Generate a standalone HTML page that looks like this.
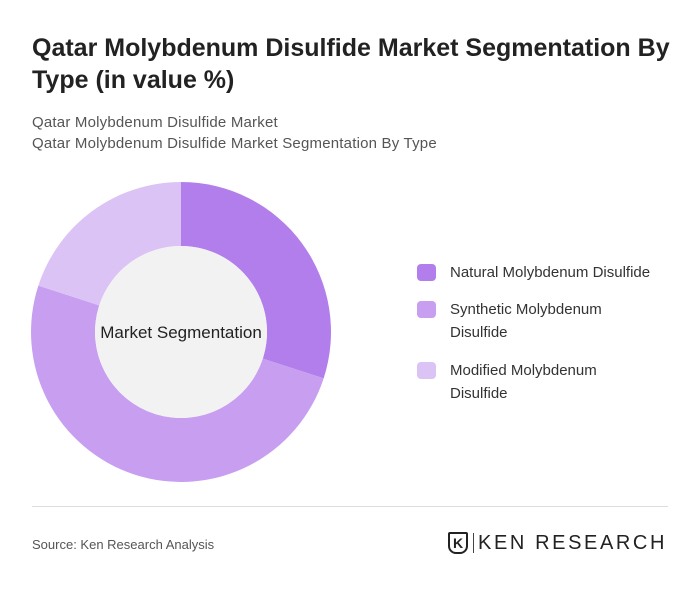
<!DOCTYPE html>
<html><head><meta charset="utf-8"><style>
body{margin:0;background:#fff;font-family:"Liberation Sans",sans-serif;}
.wrap{position:relative;width:700px;height:591px;overflow:hidden;background:#fff;}
.title{position:absolute;left:32px;top:32px;width:650px;font-size:25px;font-weight:bold;color:#222;line-height:32px;}
.sub{position:absolute;left:32px;font-size:15px;color:#555;letter-spacing:0.2px;}
.leg{position:absolute;left:417px;font-size:15px;color:#333;line-height:23px;}
.sw{position:absolute;left:0;top:3px;width:19px;height:17px;border-radius:4px;}
.lt{position:absolute;left:33px;top:0;width:240px;}
</style></head><body>
<div class="wrap">
<div class="title">Qatar Molybdenum Disulfide Market Segmentation By Type (in value %)</div>
<div class="sub" style="top:114px">Qatar Molybdenum Disulfide Market</div>
<div class="sub" style="top:135px">Qatar Molybdenum Disulfide Market Segmentation By Type</div>
<svg id="donut" width="700" height="591" style="position:absolute;left:0;top:0"></svg>
<div class="leg" style="top:261px"><div class="sw" style="background:#b27eeb"></div><div class="lt">Natural Molybdenum Disulfide</div></div>
<div class="leg" style="top:298px"><div class="sw" style="background:#c79ef0"></div><div class="lt">Synthetic Molybdenum<br>Disulfide</div></div>
<div class="leg" style="top:359px"><div class="sw" style="background:#dcc3f6"></div><div class="lt">Modified Molybdenum<br>Disulfide</div></div>
<div style="position:absolute;left:32px;top:506px;width:636px;height:1px;background:#ddd"></div>
<div style="position:absolute;left:32px;top:537px;font-size:13px;color:#555">Source: Ken Research Analysis</div>
<div style="position:absolute;left:448px;top:532px;width:20px;height:22px;border:2px solid #222;border-radius:2px 2px 8px 8px;box-sizing:border-box;font-size:14px;font-weight:bold;text-align:center;line-height:18px;color:#222">K</div>
<div style="position:absolute;left:473px;top:533px;width:1px;height:20px;background:#444"></div>
<div style="position:absolute;left:478px;top:532px;font-size:20px;letter-spacing:2.6px;color:#222">KEN RESEARCH</div>
</div>
<script>
const categories=["Natural Molybdenum Disulfide","Synthetic Molybdenum Disulfide","Modified Molybdenum Disulfide"];
const values=[30,50,20];
const colors=["#b27eeb","#c79ef0","#dcc3f6"];
const svg=document.getElementById('donut');
const NS="http://www.w3.org/2000/svg";
const cx=181,cy=332,R=150,r=86;
const total=values.reduce((a,b)=>a+b,0);
function pt(a,rad){return [cx+rad*Math.sin(a),cy-rad*Math.cos(a)];}
let start=0;
values.forEach((v,i)=>{
  const end=start+v/total*2*Math.PI;
  const large=(end-start)>Math.PI?1:0;
  const [x1,y1]=pt(start,R),[x2,y2]=pt(end,R),[x3,y3]=pt(end,r),[x4,y4]=pt(start,r);
  const p=document.createElementNS(NS,'path');
  p.setAttribute('d',`M${x1},${y1}A${R},${R} 0 ${large} 1 ${x2},${y2}L${x3},${y3}A${r},${r} 0 ${large} 0 ${x4},${y4}Z`);
  p.setAttribute('fill',colors[i]);
  
  
  svg.appendChild(p);
  start=end;
});
const c=document.createElementNS(NS,'circle');
c.setAttribute('cx',cx);c.setAttribute('cy',cy);c.setAttribute('r',r);c.setAttribute('fill','#f2f2f2');


svg.appendChild(c);
const t=document.createElementNS(NS,'text');
t.setAttribute('x',cx);t.setAttribute('y',cy+6);t.setAttribute('text-anchor','middle');
t.setAttribute('font-size','17');t.setAttribute('fill','#222');t.setAttribute('font-family','Liberation Sans, sans-serif');
t.textContent='Market Segmentation';


svg.appendChild(t);
</script>
</body></html>
